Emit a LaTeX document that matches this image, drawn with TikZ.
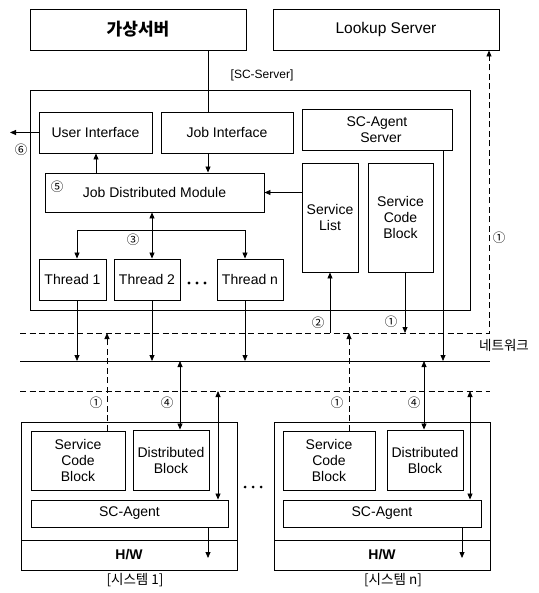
\documentclass[tikz,border=0pt]{standalone}
\usepackage{fontspec}
\setmainfont{Liberation Sans}
\newfontfamily\kr{Noto Sans CJK KR}
\usetikzlibrary{arrows.meta}
\newcommand{\cn}[1]{{\kr\fontsize{12.5}{12.5}\selectfont #1}}
\begin{document}
\begin{tikzpicture}[x=1pt,y=-1pt,
  box/.style={draw,line width=0.9pt,inner sep=0pt,align=center,font=\fontsize{14}{16}\selectfont},
  wire/.style={line width=0.8pt},
  arr/.style={wire,-{Triangle[length=6pt,width=5pt]}},
  darr/.style={wire,{Triangle[length=6pt,width=5pt]}-{Triangle[length=6pt,width=5pt]}},
  dsh/.style={wire,dash pattern=on 6pt off 3.5pt},
  lbl/.style={inner sep=0pt}]
\useasboundingbox (0,0) rectangle (538,593);

% top-level servers
\node[box,minimum width=216,minimum height=41,font=\kr\fontsize{17}{17}\selectfont\bfseries] (vserver) at (138,29.5) {가상서버};
\node[box,minimum width=226,minimum height=41,font=\fontsize{15.5}{15.5}\selectfont] (lookup) at (386,29.5) {Lookup Server};
\node[lbl,font=\fontsize{12}{12}\selectfont] (sclabel) at (262,75) {[SC-Server]};

% SC-Server frame and its modules
\node[box,minimum width=440,minimum height=220] (scserver) at (250,200) {};
\node[box,minimum width=113,minimum height=41] (ui) at (95.5,132.5) {User Interface};
\node[box,minimum width=132,minimum height=41] (ji) at (227,132.5) {Job Interface};
\node[box,minimum width=150,minimum height=41] (scas) at (377,129.5) {SC-Agent\\\ \ Server};
\node[box,minimum width=219,minimum height=39] (jdm) at (154.5,192.5) {Job Distributed Module};
\node[box,minimum width=56,minimum height=109] (slist) at (330,217.5) {Service\\List};
\node[box,minimum width=65,minimum height=109] (scb0) at (400.5,217.5) {Service\\Code\\Block};
\node[box,minimum width=67,minimum height=41] (t1) at (72.5,279.5) {Thread 1};
\node[box,minimum width=66,minimum height=41] (t2) at (147,279.5) {Thread 2};
\node[box,minimum width=66,minimum height=41] (tn) at (250,279.5) {Thread n};
\foreach \x in {189,197,205} \fill (\x,283) circle (1.6pt);

% column and row references
\coordinate (c77) at (77,0);   \coordinate (c96) at (96,0);
\coordinate (c152) at (152,0); \coordinate (c208) at (208,0);
\coordinate (c245) at (245,0); \coordinate (c405) at (405,0);
\coordinate (c443) at (443,0); \coordinate (c107) at (107,0);
\coordinate (c180) at (180,0); \coordinate (c218) at (218,0);
\coordinate (c349) at (349,0); \coordinate (c424) at (424,0);
\coordinate (c470) at (470,0); \coordinate (c462) at (462,0);
\coordinate (out6) at (10,132.5);
\coordinate (bus3) at (152,230);

% network lines
\coordinate (dL) at (20,333); \coordinate (dR) at (489,333);
\coordinate (nL) at (20,361); \coordinate (nR) at (490,361);
\coordinate (lL) at (20,391); \coordinate (lR) at (490,391);
\draw[wire] (nL) -- (nR);
\draw[dsh] (lL) -- (lR);
\draw[dsh,-{Triangle[length=6pt,width=5pt]}] (dL) -- (dR) -- (dR |- lookup.south);
\node[lbl,font=\kr\fontsize{13.5}{13.5}\selectfont] (net) at (504,345) {네트워크};

% server-side connectors
\draw[wire] (vserver.south -| c208) -- (ji.north -| c208);
\draw[arr] (ui.west) -- (out6);
\draw[arr] (jdm.north -| c96) -- (ui.south -| c96);
\draw[arr] (ji.south -| c208) -- (jdm.north -| c208);
\draw[arr] (slist.west |- jdm.east) -- (jdm.east);
\draw[darr] (jdm.south -| c152) -- (t2.north -| c152);
\draw[arr] (bus3) -| (t1.north -| c77);
\draw[arr] (bus3) -| (tn.north -| c245);
\draw[arr] (t1.south -| c77) -- (c77 |- nL);
\draw[arr] (t2.south -| c152) -- (c152 |- nL);
\draw[arr] (tn.south -| c245) -- (c245 |- nL);
\draw[arr] (scas.south -| c443) -- (c443 |- nL);
\draw[arr] (scb0.south -| c405) -- (c405 |- dL);
\draw[arr] (slist.south |- dL) -- (slist.south);

\node[lbl] (n6) at (21,150) {\cn{⑥}};
\node[lbl] (n5) at (57,187) {\cn{⑤}};
\node[lbl] (n3) at (133,240) {\cn{③}};
\node[lbl] (n2) at (318,323) {\cn{②}};
\node[lbl] (n1a) at (391,322) {\cn{①}};
\node[lbl] (n1b) at (499,238) {\cn{①}};

% system 1
\node[box,minimum width=216,minimum height=148] (sys1) at (129,496) {};
\node[box,minimum width=216,minimum height=30,font=\fontsize{14}{14}\selectfont\bfseries] (hw1) at (129,555) {H/W};
\node[box,minimum width=94,minimum height=59] (scb1) at (78,460.5) {Service\\Code\\Block};
\node[box,minimum width=76,minimum height=60] (db1) at (171,460) {Distributed\\Block};
\node[box,minimum width=197,minimum height=27] (sca1) at (129.5,513.5) {SC-Agent};
\node[lbl,font=\kr\fontsize{13.5}{13.5}\selectfont] (cap1) at (135,580) {[시스템 1]};
\coordinate (hw1end) at (208,558);
\draw[dsh,-{Triangle[length=6pt,width=5pt]}] (scb1.north -| c107) -- (c107 |- dL);
\draw[darr] (c180 |- nL) -- (db1.north -| c180);
\draw[darr] (c218 |- lL) -- (sca1.north -| c218);
\draw[arr] (sca1.south -| c208) -- (hw1end);
\node[lbl] (n1c) at (96,403) {\cn{①}};
\node[lbl] (n4a) at (167,403) {\cn{④}};

\foreach \x in {245,253,261} \fill (\x,487) circle (1.5pt);

% system n
\node[box,minimum width=216,minimum height=148] (sysn) at (382,496) {};
\node[box,minimum width=216,minimum height=30,font=\fontsize{14}{14}\selectfont\bfseries] (hwn) at (382,555) {H/W};
\node[box,minimum width=92,minimum height=59] (scbn) at (329,460.5) {Service\\Code\\Block};
\node[box,minimum width=76,minimum height=60] (dbn) at (425,460) {Distributed\\Block};
\node[box,minimum width=198,minimum height=27] (scan) at (382,513.5) {SC-Agent};
\node[lbl,font=\kr\fontsize{13.5}{13.5}\selectfont] (capn) at (393,580) {[시스템 n]};
\coordinate (hwnend) at (462,558);
\draw[dsh,-{Triangle[length=6pt,width=5pt]}] (scbn.north -| c349) -- (c349 |- dL);
\draw[darr] (c424 |- nL) -- (dbn.north -| c424);
\draw[darr] (c470 |- lL) -- (scan.north -| c470);
\draw[arr] (scan.south -| c462) -- (hwnend);
\node[lbl] (n1d) at (337,403) {\cn{①}};
\node[lbl] (n4b) at (414,403) {\cn{④}};
\end{tikzpicture}
\end{document}
